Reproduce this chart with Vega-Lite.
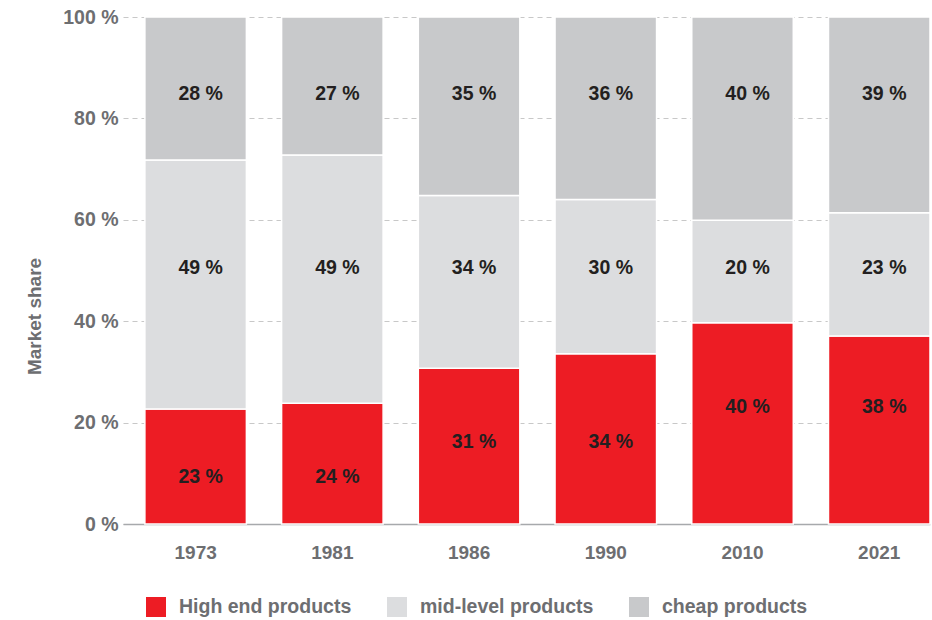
{
  "$schema": "https://vega.github.io/schema/vega-lite/v6.json",
  "width": 807,
  "height": 507,
  "autosize": {"type": "none"},
  "padding": {"left": 123, "top": 17, "right": 2, "bottom": 96},
  "config": {
    "view": {"stroke": null},
    "font": "Liberation Sans",
    "text": {"font": "Liberation Sans", "fontSize": 19.5, "fontWeight": "bold", "color": "#231F20", "baseline": "middle", "dx": 5}
  },
  "data": {
    "values": [
      {"year": "1973", "category": "High end products", "rank": 1, "share": 22.7, "label": "23 %"},
      {"year": "1973", "category": "mid-level products", "rank": 2, "share": 49.1, "label": "49 %"},
      {"year": "1973", "category": "cheap products", "rank": 3, "share": 28.2, "label": "28 %"},
      {"year": "1981", "category": "High end products", "rank": 1, "share": 23.8, "label": "24 %"},
      {"year": "1981", "category": "mid-level products", "rank": 2, "share": 49.0, "label": "49 %"},
      {"year": "1981", "category": "cheap products", "rank": 3, "share": 27.2, "label": "27 %"},
      {"year": "1986", "category": "High end products", "rank": 1, "share": 30.7, "label": "31 %"},
      {"year": "1986", "category": "mid-level products", "rank": 2, "share": 34.1, "label": "34 %"},
      {"year": "1986", "category": "cheap products", "rank": 3, "share": 35.2, "label": "35 %"},
      {"year": "1990", "category": "High end products", "rank": 1, "share": 33.6, "label": "34 %"},
      {"year": "1990", "category": "mid-level products", "rank": 2, "share": 30.4, "label": "30 %"},
      {"year": "1990", "category": "cheap products", "rank": 3, "share": 36.0, "label": "36 %"},
      {"year": "2010", "category": "High end products", "rank": 1, "share": 39.7, "label": "40 %"},
      {"year": "2010", "category": "mid-level products", "rank": 2, "share": 20.2, "label": "20 %"},
      {"year": "2010", "category": "cheap products", "rank": 3, "share": 40.1, "label": "40 %"},
      {"year": "2021", "category": "High end products", "rank": 1, "share": 37.1, "label": "38 %"},
      {"year": "2021", "category": "mid-level products", "rank": 2, "share": 24.3, "label": "23 %"},
      {"year": "2021", "category": "cheap products", "rank": 3, "share": 38.6, "label": "39 %"}
    ]
  },
  "encoding": {
    "x": {
      "field": "year",
      "type": "nominal",
      "sort": null,
      "scale": {"paddingInner": 0.2575, "paddingOuter": 0.08, "align": 1},
      "axis": {
        "title": null,
        "labelAngle": 0,
        "ticks": false,
        "labelPadding": 19,
        "labelFont": "Liberation Sans",
        "labelFontSize": 19,
        "labelFontWeight": "bold",
        "labelColor": "#6D6E71",
        "domainColor": "#A7A9AC",
        "domainWidth": 1.5,
        "grid": false
      }
    },
    "y": {
      "field": "share",
      "type": "quantitative",
      "aggregate": "sum",
      "stack": "zero",
      "scale": {"domain": [0, 100], "nice": false},
      "axis": {
        "title": "Market share",
        "titleFont": "Liberation Sans",
        "titleFontSize": 19,
        "titleFontWeight": "bold",
        "titleColor": "#6D6E71",
        "titleAngle": -90,
        "titleAlign": "center",
        "titleBaseline": "middle",
        "titleX": -89,
        "titleY": 299,
        "values": [0, 20, 40, 60, 80, 100],
        "labelExpr": "datum.value + ' %'",
        "labelFont": "Liberation Sans",
        "labelFontSize": 19.5,
        "labelFontWeight": "bold",
        "labelColor": "#6D6E71",
        "labelPadding": 5,
        "ticks": false,
        "domain": false,
        "grid": true,
        "gridColor": "#C8C8C8",
        "gridDash": [5, 4],
        "gridWidth": 1.2
      }
    },
    "order": {"field": "rank", "type": "quantitative", "sort": "ascending"}
  },
  "layer": [
    {
      "mark": {"type": "bar", "stroke": "white", "strokeWidth": 1.5},
      "encoding": {
        "color": {
          "field": "category",
          "type": "nominal",
          "sort": ["High end products", "mid-level products", "cheap products"],
          "scale": {
            "domain": ["High end products", "mid-level products", "cheap products"],
            "range": ["#ED1C24", "#DCDDDF", "#C8C9CB"]
          },
          "legend": {
            "title": null,
            "orient": "none",
            "direction": "horizontal",
            "legendX": 23,
            "legendY": 580,
            "symbolType": "square",
            "symbolSize": 400,
            "symbolStrokeWidth": 0,
            "labelOffset": 13,
            "columnPadding": 35,
            "labelLimit": 400,
            "labelFont": "Liberation Sans",
            "labelFontSize": 19.5,
            "labelFontWeight": "bold",
            "labelColor": "#6D6E71",
            "padding": 0
          }
        }
      }
    },
    {
      "transform": [{"filter": "datum.category === 'High end products' && (datum.year === '1973' || datum.year === '1981')"}],
      "mark": {"type": "text"},
      "encoding": {
        "y": {"datum": 9.3, "type": "quantitative"},
        "text": {"field": "label"}
      }
    },
    {
      "transform": [{"filter": "datum.category === 'High end products' && (datum.year === '1986' || datum.year === '1990')"}],
      "mark": {"type": "text"},
      "encoding": {
        "y": {"datum": 16.1, "type": "quantitative"},
        "text": {"field": "label"}
      }
    },
    {
      "transform": [{"filter": "datum.category === 'High end products' && (datum.year === '2010' || datum.year === '2021')"}],
      "mark": {"type": "text"},
      "encoding": {
        "y": {"datum": 23.0, "type": "quantitative"},
        "text": {"field": "label"}
      }
    },
    {
      "transform": [{"filter": "datum.category === 'mid-level products'"}],
      "mark": {"type": "text"},
      "encoding": {
        "y": {"datum": 50.4, "type": "quantitative"},
        "text": {"field": "label"}
      }
    },
    {
      "transform": [{"filter": "datum.category === 'cheap products'"}],
      "mark": {"type": "text"},
      "encoding": {
        "y": {"datum": 84.8, "type": "quantitative"},
        "text": {"field": "label"}
      }
    }
  ]
}
